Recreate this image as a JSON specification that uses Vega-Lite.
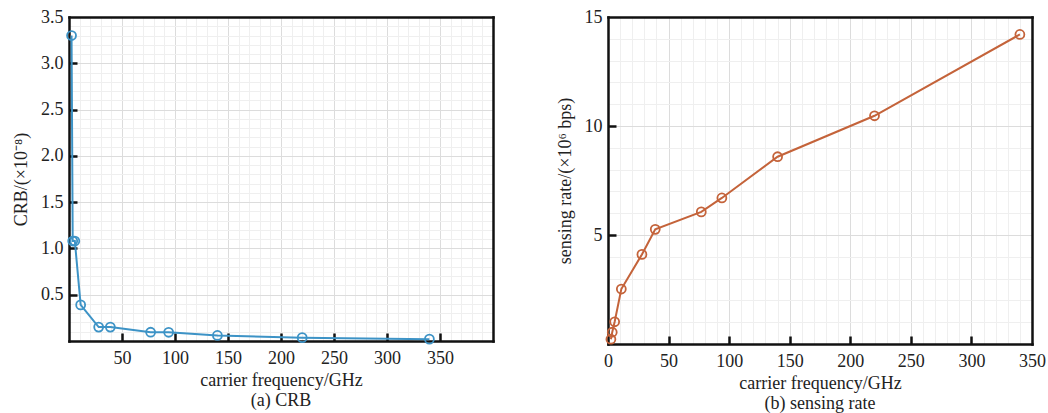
{
  "$schema": "https://vega.github.io/schema/vega-lite/v6.json",
  "background": "white",
  "padding": {"left": 12, "top": 8, "right": 0, "bottom": 0},
  "spacing": 63,
  "config": {
    "font": "Liberation Serif",
    "view": {"stroke": null},
    "axis": {
      "labelFont": "Liberation Serif",
      "titleFont": "Liberation Serif",
      "labelFontSize": 18,
      "titleFontSize": 18,
      "titleFontWeight": "normal",
      "labelColor": "#222222",
      "titleColor": "#222222",
      "domain": true,
      "domainColor": "#111111",
      "domainWidth": 2.5,
      "domainCap": "square",
      "tickColor": "#111111",
      "tickWidth": 2.5,
      "tickSize": -8,
      "labelPadding": 14,
      "grid": true,
      "labelOverlap": false,
      "labelFlush": false
    },
    "axisX": {"labelPadding": 16},
    "title": {"font": "Liberation Serif", "fontSize": 18, "fontWeight": "normal", "color": "#222222"}
  },
  "datasets": {
    "crb": [
      {"freq": 2.4, "crb": 3.3},
      {"freq": 3.5, "crb": 1.08},
      {"freq": 5.5, "crb": 1.08},
      {"freq": 11, "crb": 0.39},
      {"freq": 28, "crb": 0.15},
      {"freq": 39, "crb": 0.15},
      {"freq": 77, "crb": 0.095},
      {"freq": 94, "crb": 0.094},
      {"freq": 140, "crb": 0.06},
      {"freq": 220, "crb": 0.036},
      {"freq": 340, "crb": 0.02}
    ],
    "rate": [
      {"freq": 2.4, "rate": 0.22},
      {"freq": 3.5, "rate": 0.54},
      {"freq": 5.5, "rate": 1.02},
      {"freq": 11, "rate": 2.52},
      {"freq": 28, "rate": 4.11},
      {"freq": 39, "rate": 5.26},
      {"freq": 77, "rate": 6.06},
      {"freq": 94, "rate": 6.7},
      {"freq": 140, "rate": 8.59},
      {"freq": 220, "rate": 10.47},
      {"freq": 340, "rate": 14.2}
    ]
  },
  "hconcat": [
    {
      "width": 424,
      "height": 324,
      "data": {"name": "crb"},
      "title": {"text": "(a) CRB", "orient": "bottom", "offset": 3},
      "resolve": {"axis": {"x": "independent", "y": "independent"}},
      "layer": [
        {
          "mark": {"type": "line", "color": "#3d93c6", "strokeWidth": 2,
                   "point": {"shape": "circle", "filled": false, "fill": null, "stroke": "#3d93c6", "strokeWidth": 1.8, "size": 80}},
          "encoding": {
            "x": {
              "field": "freq", "type": "quantitative",
              "scale": {"domain": [0, 400], "nice": false},
              "axis": {
                "orient": "bottom",
                "title": "carrier frequency/GHz",
                "titlePadding": 4,
                "values": [0,10,20,30,40,50,60,70,80,90,100,110,120,130,140,150,160,170,180,190,200,210,220,230,240,250,260,270,280,290,300,310,320,330,340,350,360,370,380,390,400],
                "labelExpr": "datum.value % 50 === 0 && datum.value > 0 && datum.value < 400 ? datum.label : ''",
                "tickOpacity": {"condition": {"test": "datum.value % 50 === 0 && datum.value > 0 && datum.value < 400", "value": 1}, "value": 0},
                "gridOpacity": {"condition": {"test": "datum.value <= 0 || datum.value >= 400", "value": 0}, "value": 1},
                "gridColor": {"condition": {"test": "datum.value % 50 === 0", "value": "#dcdcdc"}, "value": "#efefef"}
              }
            },
            "y": {
              "field": "crb", "type": "quantitative",
              "scale": {"domain": [0, 3.5], "nice": false},
              "axis": {
                "orient": "left",
                "title": "CRB/(×10⁻⁸)",
                "titlePadding": 10,
                "values": [0,0.1,0.2,0.3,0.4,0.5,0.6,0.7,0.8,0.9,1,1.1,1.2,1.3,1.4,1.5,1.6,1.7,1.8,1.9,2,2.1,2.2,2.3,2.4,2.5,2.6,2.7,2.8,2.9,3,3.1,3.2,3.3,3.4,3.5],
                "format": ".1f",
                "labelExpr": "round(datum.value*10) % 5 === 0 && datum.value > 0.01 ? datum.label : ''",
                "tickOpacity": {"condition": {"test": "round(datum.value*10) % 5 === 0 && datum.value > 0.01 && datum.value < 3.45", "value": 1}, "value": 0},
                "gridOpacity": {"condition": {"test": "datum.value < 0.01 || datum.value > 3.45", "value": 0}, "value": 1},
                "gridColor": {"condition": {"test": "round(datum.value*10) % 5 === 0", "value": "#dcdcdc"}, "value": "#efefef"}
              }
            }
          }
        },
        {
          "mark": {"type": "point", "opacity": 0},
          "encoding": {
            "x": {"field": "freq", "type": "quantitative",
                  "axis": {"orient": "top", "title": null, "labels": false, "ticks": false, "grid": false, "zindex": 1}},
            "y": {"field": "crb", "type": "quantitative",
                  "axis": {"orient": "right", "title": null, "labels": false, "ticks": false, "grid": false, "zindex": 1}}
          }
        }
      ]
    },
    {
      "width": 424,
      "height": 327,
      "data": {"name": "rate"},
      "title": {"text": "(b) sensing rate", "orient": "bottom", "offset": 3},
      "resolve": {"axis": {"x": "independent", "y": "independent"}},
      "layer": [
        {
          "mark": {"type": "line", "color": "#c4633a", "strokeWidth": 2,
                   "point": {"shape": "circle", "filled": false, "fill": null, "stroke": "#c4633a", "strokeWidth": 1.8, "size": 80}},
          "encoding": {
            "x": {
              "field": "freq", "type": "quantitative",
              "scale": {"domain": [0, 350], "nice": false},
              "axis": {
                "orient": "bottom",
                "title": "carrier frequency/GHz",
                "titlePadding": 4,
                "values": [0,10,20,30,40,50,60,70,80,90,100,110,120,130,140,150,160,170,180,190,200,210,220,230,240,250,260,270,280,290,300,310,320,330,340,350],
                "labelExpr": "datum.value % 50 === 0 ? datum.label : ''",
                "tickOpacity": {"condition": {"test": "datum.value % 50 === 0 && datum.value > 0 && datum.value < 350", "value": 1}, "value": 0},
                "gridOpacity": {"condition": {"test": "datum.value <= 0 || datum.value >= 350", "value": 0}, "value": 1},
                "gridColor": {"condition": {"test": "datum.value % 50 === 0", "value": "#dcdcdc"}, "value": "#efefef"}
              }
            },
            "y": {
              "field": "rate", "type": "quantitative",
              "scale": {"domain": [0, 15], "nice": false},
              "axis": {
                "orient": "left",
                "title": "sensing rate/(×10⁶ bps)",
                "titlePadding": 10,
                "values": [0,1,2,3,4,5,6,7,8,9,10,11,12,13,14,15],
                "labelExpr": "datum.value % 5 === 0 && datum.value > 0 ? datum.label : ''",
                "tickOpacity": {"condition": {"test": "datum.value % 5 === 0 && datum.value > 0 && datum.value < 15", "value": 1}, "value": 0},
                "gridOpacity": {"condition": {"test": "datum.value <= 0 || datum.value >= 15", "value": 0}, "value": 1},
                "gridColor": {"condition": {"test": "datum.value % 5 === 0", "value": "#dcdcdc"}, "value": "#efefef"}
              }
            }
          }
        },
        {
          "mark": {"type": "point", "opacity": 0},
          "encoding": {
            "x": {"field": "freq", "type": "quantitative",
                  "axis": {"orient": "top", "title": null, "labels": false, "ticks": false, "grid": false, "zindex": 1}},
            "y": {"field": "rate", "type": "quantitative",
                  "axis": {"orient": "right", "title": null, "labels": false, "ticks": false, "grid": false, "zindex": 1}}
          }
        }
      ]
    }
  ]
}
